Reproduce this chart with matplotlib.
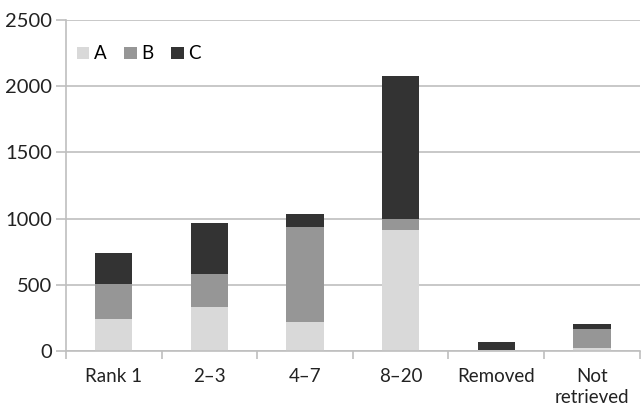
import numpy as np
import matplotlib.pyplot as plt

categories = ["Rank 1", "2\u20133", "4\u20137", "8\u201320", "Removed", "Not\nretrieved"]
a_vals = [240, 332, 219, 914, 5, 20]
b_vals = [268, 252, 715, 86, 5, 144]
c_vals = [232, 380, 100, 1075, 58, 40]

colors = {"A": "#d9d9d9", "B": "#969696", "C": "#333333"}
grid_col = "#bfbfbf"

plt.rcParams['font.family'] = ['Lato', 'DejaVu Sans']

fig = plt.figure(figsize=(6.41, 4.08), dpi=100)
ax = fig.add_axes([0.103, 0.14, 0.895, 0.811])

x = np.arange(len(categories))
a = np.array(a_vals)
b = np.array(b_vals)
c = np.array(c_vals)
w = 0.39
ax.bar(x, a, w, color=colors["A"], label="A")
ax.bar(x, b, w, bottom=a, color=colors["B"], label="B")
ax.bar(x, c, w, bottom=a + b, color=colors["C"], label="C")

ax.set_xlim(-0.5, len(categories) - 0.5)
ax.set_ylim(0, 2500)
ax.set_yticks(range(0, 2501, 500))
ax.yaxis.grid(True, color=grid_col, linewidth=1.2)
ax.set_axisbelow(True)

ax.set_xticks(x)
ax.set_xticklabels(categories, linespacing=1.3)
ax.set_xticks(np.arange(-0.5, len(categories)), minor=True)
ax.tick_params(axis='x', which='major', length=0, pad=12, labelsize=13.5, colors='#222222')
ax.tick_params(axis='x', which='minor', length=6, color=grid_col, width=1.2)
ax.tick_params(axis='y', length=7, color=grid_col, width=1.2, pad=3, labelsize=14.5, labelcolor='#222222')

for s in ['top', 'right']:
    ax.spines[s].set_visible(False)
for s in ['left', 'bottom']:
    ax.spines[s].set_color(grid_col)
    ax.spines[s].set_linewidth(1.2)

ax.legend(loc='center left', ncol=3, frameon=False, fontsize=13.5, handlelength=0.65,
          handleheight=0.65, handletextpad=0.25, columnspacing=0.95, borderpad=0,
          borderaxespad=0, bbox_to_anchor=(11 / 574, (351 - 54) / 331))

fig.savefig("out.png", dpi=100)
